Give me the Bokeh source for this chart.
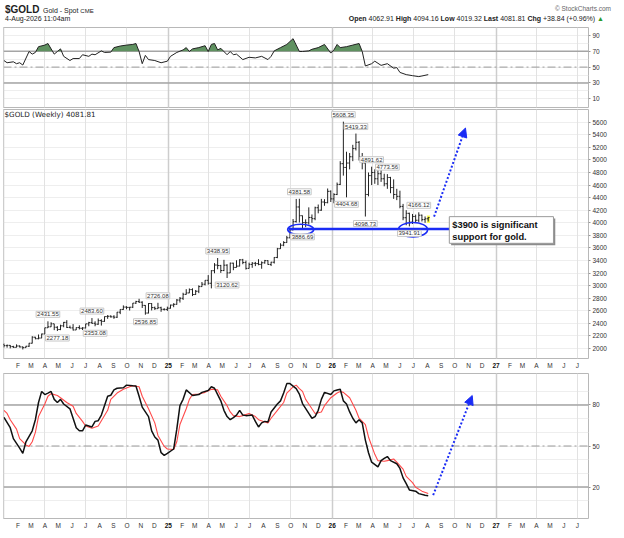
import numpy as np
from bokeh.plotting import figure
from bokeh.models import Range1d, FixedTicker, Label, Span, Div, Arrow, NormalHead, Grid
from bokeh.layouts import column
from bokeh.embed import file_html
from bokeh.resources import INLINE
from bokeh.core.properties import value

# ---------------- data ----------------
first_week = "2024-01-01"   # weekly bars, one per week

opens = [2063, 2045, 2049, 2029, 2018, 2039, 2024, 2013, 2035, 2083,
         2179, 2155, 2165, 2230, 2329, 2344, 2392, 2337, 2301, 2360,
         2415, 2334, 2327, 2294, 2332, 2321, 2326, 2391, 2411, 2400,
         2386, 2443, 2431, 2507, 2512, 2503, 2497, 2577, 2621, 2658,
         2653, 2656, 2721, 2747, 2736, 2685, 2563, 2715, 2650, 2633,
         2648, 2622, 2621, 2640, 2690, 2702, 2770, 2798, 2861, 2883,
         2936, 2858, 2910, 2984, 3022, 3084, 3037, 3237, 3327, 3319,
         3240, 3325, 3202, 3357, 3289, 3310, 3410, 3368, 3274, 3337,
         3355, 3350, 3337, 3363, 3397, 3336, 3372, 3448, 3587, 3643,
         3685, 3760, 3887, 4018, 4251, 4112, 4003, 4000, 4084, 4065,
         4239, 4200, 4330, 4320, 4500, 4380, 4450, 4610, 4940, 4880,
         4950, 5050, 5180, 5280, 5050, 4950, 4450, 4750, 4800, 4700,
         4780, 4700, 4620, 4720, 4560, 4450, 4420, 4260, 4080, 4150,
         4010, 4100, 4040, 4120, 4050, 4062.91]
highs = [2078, 2062, 2055, 2042, 2065, 2049, 2032, 2041, 2088, 2195,
         2185, 2222, 2236, 2330, 2431.55, 2417, 2392, 2354, 2378, 2422,
         2450, 2364, 2387, 2335, 2368, 2338, 2392, 2424, 2483.60, 2432,
         2477, 2464, 2509, 2531, 2528, 2529, 2581, 2625, 2685, 2672,
         2660, 2722, 2758, 2790, 2750, 2690, 2721, 2721, 2666, 2726.08,
         2664, 2639, 2665, 2697, 2720, 2786, 2818, 2886, 2943, 2955,
         2957, 2930, 3004, 3057, 3086, 3167, 3246, 3358, 3438.95, 3330,
         3410, 3340, 3366, 3364, 3403, 3420, 3425, 3398, 3365, 3375,
         3377, 3420, 3385, 3409, 3404, 3379, 3453, 3600, 3674, 3707,
         3791, 3897, 4059, 4379, 4381.58, 4115, 4054, 4245, 4132, 4256,
         4290, 4380, 4375, 4545, 4515, 4470, 4640, 4980, 5608.35, 5130,
         5110, 5240, 5419.33, 5300, 5110, 4990, 4800, 4891.62, 4850, 4840,
         4860, 4780, 4773.56, 4730, 4690, 4540, 4510, 4300, 4200, 4160,
         4140, 4130, 4166.12, 4130, 4100, 4094.16]
lows = [2016, 2013, 2001, 2009, 2016, 2016, 1984, 2011, 2024, 2079,
        2146, 2146, 2164, 2228, 2326, 2342, 2291, 2277.18, 2291, 2337,
        2325, 2322, 2286, 2293, 2302, 2293, 2319, 2353, 2393, 2353.08,
        2376, 2364, 2424, 2471, 2490, 2471, 2485, 2546, 2613, 2624,
        2604, 2643, 2708, 2723, 2644, 2536.85, 2558, 2605, 2613, 2632,
        2583, 2604, 2597, 2634, 2656, 2696, 2730, 2772, 2856, 2880,
        2833, 2852, 2880, 2982, 3003, 3015, 2956, 3196, 3260, 3202,
        3230, 3120.62, 3200, 3245, 3288, 3306, 3340, 3255, 3272, 3283,
        3310, 3324, 3268, 3348, 3331, 3311, 3351, 3436, 3584, 3627,
        3680, 3755, 3880, 4003, 4004, 3886.69, 3930, 3970, 4000, 4040,
        4150, 4190, 4270, 4310, 4330, 4310, 4440, 4600, 4750, 4404.68,
        4850, 4980, 5150, 4990, 4850, 4098.73, 4420, 4600, 4620, 4600,
        4650, 4580, 4540, 4470, 4380, 4360, 4230, 4040, 3960, 3941.91,
        3980, 4000, 4010, 4020, 4000, 4019.32]
closes = [2045, 2049, 2029, 2018, 2039, 2024, 2013, 2035, 2083, 2179,
          2155, 2165, 2230, 2329, 2344, 2392, 2337, 2301, 2360, 2415,
          2334, 2327, 2294, 2332, 2321, 2326, 2391, 2411, 2400, 2386,
          2443, 2431, 2507, 2512, 2503, 2497, 2577, 2621, 2658, 2653,
          2656, 2721, 2747, 2736, 2685, 2563, 2715, 2650, 2633, 2648,
          2622, 2621, 2640, 2690, 2702, 2770, 2798, 2861, 2883, 2936,
          2858, 2910, 2984, 3022, 3084, 3037, 3237, 3327, 3319, 3240,
          3325, 3202, 3357, 3289, 3310, 3410, 3368, 3274, 3337, 3355,
          3350, 3337, 3363, 3397, 3336, 3372, 3448, 3587, 3643, 3685,
          3760, 3887, 4018, 4251, 4112, 4003, 4000, 4084, 4065, 4239,
          4200, 4330, 4320, 4500, 4380, 4450, 4610, 4940, 4880, 4950,
          5050, 5180, 5280, 5050, 4950, 4450, 4750, 4800, 4700, 4780,
          4700, 4620, 4720, 4560, 4450, 4420, 4260, 4080, 4150, 4010,
          4100, 4040, 4120, 4050, 4062.91, 4081.81]

high_label_weeks = [14, 28, 49, 68, 94, 108, 112, 117, 122, 132]
low_label_weeks = [17, 29, 45, 71, 95, 109, 115, 129]

rsi_weeks = [0, 1, 3, 4, 5, 6, 8, 9, 10, 11, 13, 14, 16, 17, 18, 19, 21, 22, 24, 25,
             27, 28, 29, 31, 32, 34, 35, 37, 39, 41, 42, 43, 44, 45, 46, 48, 50, 52, 53, 55,
             57, 58, 59, 60, 62, 64, 65, 66, 67, 68, 69, 71, 72, 73, 74, 76, 78, 80, 82, 84,
             85, 86, 88, 90, 92, 94, 95, 97, 98, 100, 102, 104, 105, 106, 107, 109, 111, 113, 114, 115,
             117, 118, 120, 122, 124, 125, 126, 128, 130, 132, 133, 135]
rsi_values = [58.3, 55.5, 56.7, 54.3, 55.5, 52.6, 69.7, 66.4, 68.5, 75.8, 77.8, 79.8, 66.4, 69.7, 73.0, 63.6, 58.3, 60.8, 60.8, 65.6,
              63.6, 66.4, 65.6, 70.5, 68.5, 68.9, 74.6, 76.6, 77.8, 78.6, 79.8, 69.7, 54.3, 64.8, 59.5, 58.3, 55.5, 57.5, 63.6, 68.5,
              71.7, 74.6, 69.7, 73.0, 74.6, 77.0, 69.7, 78.6, 79.8, 71.7, 73.7, 65.6, 69.7, 65.6, 66.4, 59.5, 62.4, 61.6, 63.6, 59.5,
              63.6, 70.5, 74.6, 78.6, 85.9, 69.7, 69.7, 70.5, 72.5, 74.6, 78.6, 67.7, 71.7, 78.6, 74.6, 75.8, 77.8, 79.8, 69.7, 51.4,
              54.3, 57.5, 52.2, 54.3, 48.6, 49.4, 43.3, 40.5, 39.2, 38.0, 38.8, 40.5]

stoch_k_weeks = [0, 2, 3, 5, 6, 7, 9, 10, 11, 12, 13, 14, 15, 16, 17, 18, 19, 21, 22, 23,
                 24, 25, 26, 28, 29, 30, 31, 33, 34, 35, 36, 38, 39, 41, 42, 43, 44, 46, 47, 48,
                 49, 50, 51, 52, 54, 55, 56, 57, 58, 60, 62, 63, 65, 66, 67, 68, 69, 70, 71, 72,
                 73, 74, 75, 76, 77, 79, 80, 81, 82, 83, 84, 85, 87, 88, 89, 90, 91, 93, 94, 95,
                 97, 98, 99, 100, 101, 102, 104, 105, 106, 107, 108, 109, 110, 111, 112, 113, 114, 115, 116, 117,
                 119, 120, 121, 122, 123, 125, 126, 127, 128, 129, 131, 132, 134, 135]
stoch_k = [71.0, 63.4, 55.4, 48.5, 44.6, 53.1, 61.1, 69.2, 81.8, 89.9, 87.6, 88.7, 89.9, 84.1, 81.8, 84.1, 80.7, 77.2, 70.3, 63.4,
           61.1, 61.1, 65.3, 63.9, 68.0, 68.5, 72.6, 86.4, 87.1, 91.0, 92.2, 92.6, 94.5, 94.0, 93.8, 86.4, 78.4, 71.5, 61.1, 56.6,
           54.3, 45.1, 43.2, 44.6, 47.8, 62.3, 79.5, 84.1, 91.0, 86.9, 87.6, 89.2, 90.6, 93.3, 92.2, 87.6, 83.0, 76.1, 71.5, 69.2,
           70.8, 72.6, 76.1, 72.6, 72.2, 72.6, 68.0, 63.9, 66.9, 68.0, 67.6, 74.9, 80.7, 83.0, 88.7, 95.6, 95.6, 92.0, 88.0, 81.0,
           73.8, 70.3, 71.5, 76.1, 84.1, 89.2, 87.6, 90.3, 91.0, 91.5, 83.0, 80.7, 74.9, 70.3, 66.9, 69.2, 66.9, 54.3, 45.1, 38.2,
           34.7, 39.3, 40.9, 42.3, 39.3, 37.0, 33.6, 26.7, 22.5, 17.9, 17.0, 15.2, 14.0, 13.6]

stoch_d_weeks = [0, 1, 2, 4, 5, 7, 8, 9, 10, 11, 13, 14, 15, 17, 18, 20, 22, 23, 25, 26,
                 28, 30, 31, 33, 34, 36, 38, 40, 41, 43, 44, 46, 48, 49, 51, 52, 54, 55, 56, 58,
                 59, 60, 62, 64, 66, 68, 69, 71, 72, 73, 75, 76, 78, 80, 81, 83, 84, 85, 87, 89,
                 90, 92, 93, 94, 95, 96, 98, 99, 101, 102, 104, 106, 107, 108, 110, 112, 113, 115, 116, 118,
                 119, 121, 122, 124, 125, 127, 128, 130, 131, 133, 135]
stoch_d = [76.1, 73.8, 69.2, 62.3, 55.4, 50.8, 49.7, 53.1, 60.0, 71.5, 80.7, 86.4, 88.3, 86.9, 85.3, 81.8, 79.1, 73.8, 68.0, 64.6,
           63.0, 64.6, 68.5, 76.1, 84.1, 88.7, 91.5, 93.3, 94.0, 93.3, 86.4, 77.2, 66.9, 57.7, 49.7, 47.8, 47.4, 53.1, 65.7, 77.2,
           84.1, 87.6, 88.0, 89.2, 91.5, 91.0, 86.4, 79.5, 74.9, 72.2, 71.5, 72.2, 73.8, 71.5, 69.2, 67.6, 66.9, 70.3, 76.1, 81.8,
           88.7, 93.3, 94.5, 92.0, 89.9, 84.1, 77.2, 73.8, 74.9, 79.5, 85.3, 88.7, 89.9, 89.2, 85.3, 76.1, 70.3, 65.7, 56.6, 43.9,
           39.3, 38.9, 39.3, 40.5, 38.2, 33.1, 27.8, 23.2, 19.8, 17.0, 15.2]

month_letters = ["J", "F", "M", "A", "M", "J", "J", "A", "S", "O", "N", "D"]
year_labels = {"2025": "25", "2026": "26", "2027": "27"}
price_ticks = [2000, 2200, 2400, 2600, 2800, 3000, 3200, 3400, 3600, 3800,
               4000, 4200, 4400, 4600, 4800, 5000, 5200, 5400, 5600]
rsi_ticks = [10, 30, 50, 70, 90]
stoch_ticks = [20, 50, 80]

support_level = 3900
support_text = "$3900 is significant\nsupport for gold."

assert len(opens) == len(highs) == len(lows) == len(closes)
assert len(rsi_weeks) == len(rsi_values)
assert len(stoch_k_weeks) == len(stoch_k)
assert len(stoch_d_weeks) == len(stoch_d)

# ---------------- helpers ----------------
FONT = "Liberation Sans"
BLUE = "#1a2cf5"
GREEN = "#5f9160"


def ms(d):
    return float(np.datetime64(d, "ms").astype("int64"))


DAY = 86400000.0
start = np.datetime64(first_week, "ms")
week = np.timedelta64(7, "D")
n = len(closes)
week_dates = start + np.arange(n) * week
week_ms = week_dates.astype("int64").astype(float)


def wk_ms(w):
    return float((start + w * week).astype("int64"))


months = np.arange(np.datetime64("2024-01"), np.datetime64("2027-08"), np.timedelta64(1, "M"))
month_ms = [float(m.astype("datetime64[ms]").astype("int64")) for m in months]
month_num = [int(str(m)[5:7]) for m in months]
quarter_ms = [t for t, k in zip(month_ms, month_num) if k in (1, 4, 7, 10)]
year_ms = [t for t, k in zip(month_ms, month_num) if k == 1]
letter_x = [t for t, k in zip(month_ms, month_num) if k != 1]
letter_txt = [month_letters[k - 1] for k in month_num if k != 1]
yr_x = [t for t, m in zip(month_ms, months) if str(m)[5:7] == "01" and str(m)[:4] in year_labels]
yr_txt = [year_labels[str(m)[:4]] for m in months if str(m)[5:7] == "01" and str(m)[:4] in year_labels]

xr = Range1d(start=ms("2023-12-31"), end=ms("2027-07-26"))

common = dict(x_range=xr, frame_width=585, output_backend="svg", toolbar_location=None,
              min_border_left=3, min_border_right=0, x_axis_type="datetime",
              x_axis_location=None, y_axis_location="right",
              background_fill_color="white", border_fill_color="white")


def style(p, yticks, ygrid):
    p.outline_line_color = "#b8b8b8"
    p.xgrid.visible = False
    p.ygrid.visible = False
    p.add_layout(Grid(dimension=1, ticker=FixedTicker(ticks=ygrid), grid_line_color="#eeeeee"))
    p.add_layout(Grid(dimension=0, ticker=FixedTicker(ticks=quarter_ms), grid_line_color="#e2e2e2"))
    p.add_layout(Grid(dimension=0, ticker=FixedTicker(ticks=year_ms), grid_line_color="#cdcdcd",
                      grid_line_width=1.5))
    ax = p.yaxis[0]
    ax.ticker = FixedTicker(ticks=yticks)
    ax.axis_line_color = None
    ax.major_tick_line_color = "#999999"
    ax.major_tick_out = 2
    ax.major_tick_in = 0
    ax.minor_tick_line_color = None
    ax.major_label_text_font_size = "6.5px"
    ax.major_label_text_font = FONT
    ax.major_label_text_color = "#333333"
    ax.major_label_standoff = 2


def month_strip(h):
    s = figure(x_range=xr, y_range=Range1d(0, 1), frame_width=585, frame_height=h,
               output_backend="svg", toolbar_location=None, x_axis_location=None,
               y_axis_location=None, min_border_left=3, min_border_right=0,
               min_border_top=0, min_border_bottom=0, outline_line_color=None,
               background_fill_color="white", border_fill_color="white")
    s.xgrid.visible = False
    s.ygrid.visible = False
    s.text(x=letter_x, y=[0.5] * len(letter_x), text=letter_txt, text_align="center",
           text_baseline="middle", text_font_size="6.5px", text_font=value(FONT),
           text_color="#333333")
    s.text(x=yr_x, y=[0.5] * len(yr_x), text=yr_txt, text_align="center",
           text_baseline="middle", text_font_size="6.5px", text_font=value(FONT),
           text_font_style="bold", text_color="#111111")
    return s


def hline(p, level, dash="solid", color="#a5a5a5", width=1.5):
    p.add_layout(Span(location=level, dimension="width", line_color=color,
                      line_width=width, line_dash=dash, level="underlay"))


# ---------------- header ----------------
header = Div(width=606, height=16, text=(
    '<div style="position:relative;width:606px;height:16px;font-family:\'Liberation Sans\',Arial,sans-serif;'
    'color:#222;white-space:nowrap;line-height:1;">'
    '<span style="position:absolute;left:0px;top:0px;font-size:10px;font-weight:bold;">$GOLD</span>'
    '<span style="position:absolute;left:38px;top:2px;font-size:7px;">Gold - Spot '
    '<span style="font-size:6px;">CME</span></span>'
    '<span style="position:absolute;left:0px;top:9.5px;font-size:7px;">4-Aug-2026 11:04am</span>'
    '<span style="position:absolute;right:0px;top:1px;font-size:6.5px;color:#666;">&copy; StockCharts.com</span>'
    '<span style="position:absolute;right:7px;top:9.5px;font-size:7px;">'
    '<b>Open</b> 4062.91 <b>High</b> 4094.16 <b>Low</b> 4019.32 <b>Last</b> 4081.81 '
    '<b>Chg</b> +38.84 (+0.96%) <span style="color:#2a9a2a;">&#9650;</span></span>'
    '</div>'))

# ---------------- RSI panel ----------------
p1 = figure(frame_height=80, y_range=Range1d(-1, 100), min_border_top=1, min_border_bottom=1, **common)
style(p1, rsi_ticks, list(range(10, 100, 10)))
hline(p1, 70)
hline(p1, 30)
hline(p1, 50, dash="8 3 2 3", color="#9a9a9a", width=1)

rsi_dates = start + np.array(rsi_weeks) * week
rx = rsi_dates.astype("int64").astype(float)
rv = np.array(rsi_values, dtype=float)
fx, fy = [], []
for k in range(len(rx)):
    if k > 0 and (rv[k - 1] - 70) * (rv[k] - 70) < 0:
        t = (70 - rv[k - 1]) / (rv[k] - rv[k - 1])
        fx.append(rx[k - 1] + t * (rx[k] - rx[k - 1]))
        fy.append(70.0)
    fx.append(rx[k])
    fy.append(max(rv[k], 70.0))
p1.varea(x=fx, y1=70, y2=fy, fill_color=GREEN, fill_alpha=1.0)
p1.line(rsi_dates, rv, line_color="#222222", line_width=1)

# ---------------- price panel ----------------
p2 = figure(frame_height=249, y_range=Range1d(1840, 5802), min_border_top=1, min_border_bottom=1, **common)
style(p2, price_ticks, price_ticks)

# last-bar highlight
p2.quad(left=[week_ms[-1] - 3 * DAY], right=[week_ms[-1] + 4 * DAY],
        bottom=[lows[-1] - 25], top=[highs[-1] + 20], fill_color="#ffff55", line_color=None)

tick = np.timedelta64(3, "D")
bar_color = "#222222"
p2.segment(x0=week_dates, y0=lows, x1=week_dates, y1=highs, line_color=bar_color, line_width=1)
p2.segment(x0=week_dates - tick, y0=opens, x1=week_dates, y1=opens, line_color=bar_color, line_width=1)
p2.segment(x0=week_dates, y0=closes, x1=week_dates + tick, y1=closes, line_color=bar_color, line_width=1)

for w in high_label_weeks:
    p2.add_layout(Label(x=wk_ms(w), y=highs[w], text=f"{highs[w]:.2f}", text_font_size="6px",
                        text_font=FONT, text_color="#333333", text_align="center",
                        text_baseline="bottom", y_offset=4, background_fill_color="white",
                        border_line_color="#c8c8c8", padding=1))
for w in low_label_weeks:
    p2.add_layout(Label(x=wk_ms(w), y=lows[w], text=f"{lows[w]:.2f}", text_font_size="6px",
                        text_font=FONT, text_color="#333333", text_align="center",
                        text_baseline="top", y_offset=-4, background_fill_color="white",
                        border_line_color="#c8c8c8", padding=1))

p2.add_layout(Label(x=1, y=244, x_units="screen", y_units="screen",
                    text=f"$GOLD (Weekly) {closes[-1]:.2f}", text_font_size="7.2px",
                    text_font="DejaVu Sans", text_color="#222222", text_baseline="middle"))

# support annotations
p2.line([ms("2025-09-26"), ms("2026-09-19")], [support_level, support_level],
        line_color=BLUE, line_width=2.5)
p2.ellipse(x=[ms("2025-10-23"), ms("2026-06-30")], y=[3893, 3890],
           width=[58 * DAY, 65 * DAY], height=[166, 228],
           fill_color=None, line_color=BLUE, line_width=1.6)
p2.add_layout(Arrow(end=NormalHead(size=9, fill_color=BLUE, line_color=BLUE),
                    x_start=ms("2026-08-16"), y_start=4097, x_end=ms("2026-10-25"), y_end=5507,
                    line_color=BLUE, line_width=2, line_dash="2 2"))
p2.quad(left=[ms("2026-09-23")], right=[ms("2027-05-13")], top=[4066], bottom=[3642],
        fill_color="#8c8c8c", line_color=None)
p2.quad(left=[ms("2026-09-19")], right=[ms("2027-05-09")], top=[4097], bottom=[3673],
        fill_color="white", line_color="#9a9a9a", line_width=1)
p2.add_layout(Label(x=ms("2026-09-19"), y=4097, x_offset=3, y_offset=-3, text=support_text,
                    text_font_size="9.3px", text_font=FONT, text_font_style="bold",
                    text_color="#111111", text_baseline="top", text_align="left"))

strip1 = month_strip(12)

# ---------------- stochastic panel ----------------
p3 = figure(frame_height=145, y_range=Range1d(-3, 103), min_border_top=2, min_border_bottom=1, **common)
style(p3, stoch_ticks, list(range(10, 100, 10)))
hline(p3, 80)
hline(p3, 20)
hline(p3, 50, dash="8 3 2 3", color="#9a9a9a", width=1)
p3.line(start + np.array(stoch_d_weeks) * week, stoch_d, line_color="#ff4a4a", line_width=1.1)
p3.line(start + np.array(stoch_k_weeks) * week, stoch_k, line_color="#111111", line_width=1.5)
p3.add_layout(Arrow(end=NormalHead(size=9, fill_color=BLUE, line_color=BLUE),
                    x_start=ms("2026-08-14"), y_start=14.1, x_end=ms("2026-11-09"), y_end=86.9,
                    line_color=BLUE, line_width=2, line_dash="2 2"))

strip2 = month_strip(12)

layout = column(header, p1, p2, strip1, p3, strip2, spacing=0)
open("out.html", "w").write(file_html(layout, INLINE))
